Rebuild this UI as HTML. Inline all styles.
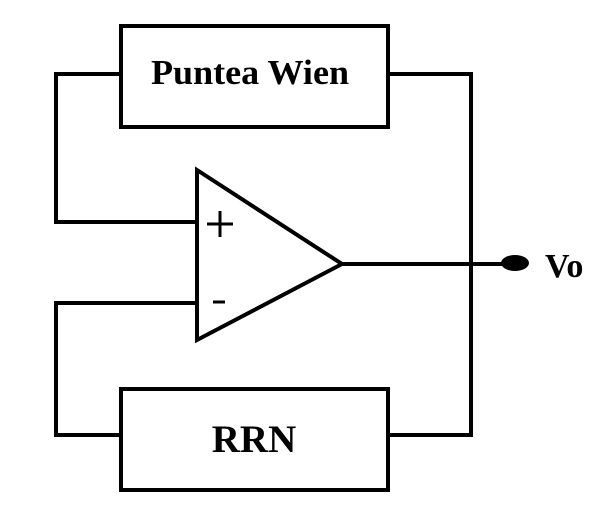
<!DOCTYPE html>
<html><head><style>body{margin:0;background:#fff}svg{display:block}</style></head><body>
<svg width="611" height="519" viewBox="0 0 611 519" xmlns="http://www.w3.org/2000/svg">
<g fill="none" stroke="#000" stroke-width="4">
<rect x="121" y="26" width="267" height="101"/>
<rect x="121" y="389" width="267" height="101"/>
<polyline points="121,74 56,74 56,222 196,222"/>
<polyline points="389,74 471,74 471,435 389,435"/>
<polyline points="196,303 56,303 56,435 121,435"/>
<polygon points="197,170 342,264 197,340"/>
<line x1="342" y1="264" x2="505" y2="264"/>
<line x1="207" y1="224" x2="233" y2="224" stroke-width="3"/>
<line x1="220" y1="211" x2="220" y2="237" stroke-width="3"/>
<line x1="213" y1="302" x2="225" y2="302" stroke-width="3"/>
</g>
<ellipse cx="515" cy="263" rx="14" ry="8" fill="#000"/>
<g font-family="Liberation Serif, serif" font-weight="bold" fill="#000">
<text x="250" y="84" font-size="35" text-anchor="middle" textLength="198" lengthAdjust="spacingAndGlyphs">Puntea Wien</text>
<text x="254" y="452" font-size="39" text-anchor="middle">RRN</text>
<text x="545" y="277" font-size="34">Vo</text>
</g>
</svg>
</body></html>
